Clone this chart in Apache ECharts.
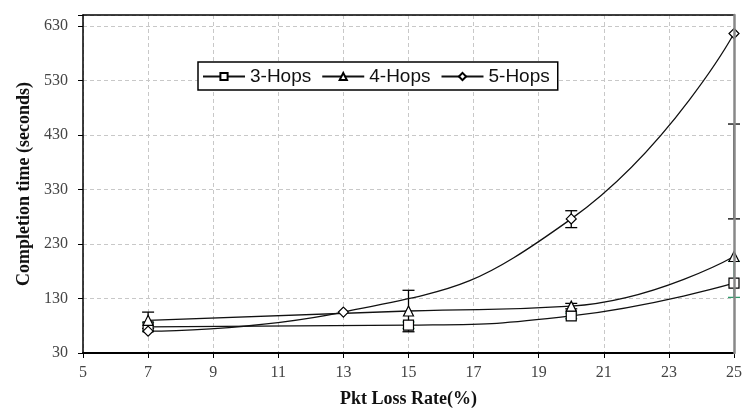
<!DOCTYPE html>
<html>
<head>
<meta charset="utf-8">
<script src="https://cdn.jsdelivr.net/npm/echarts@6/dist/echarts.min.js"></script>
<style>
  html, body { margin: 0; padding: 0; background: #fff; }
  #chart { width: 745px; height: 413px; }
</style>
</head>
<body>
<div id="chart"></div>
<script>
// packet loss rate (%) where each series was measured
const rate3 = [7, 15, 20, 25]
const rate4 = [7, 15, 20, 25]
const rate5 = [7, 13, 20, 25]
// completion time (seconds)
const hops3 = [78, 81, 98, 158]
const hops4 = [90, 107, 116, 207]
const hops5 = [70, 105, 276, 616]
// error bars: [rate, low, high]
const err3 = [[7, 70, 86], [15, 75, 87], [20, 93, 103], [25, 132, 198]]
const err4 = [[7, 75, 105], [15, 69, 145], [20, 111, 121]]
const err5 = [[20, 260, 291], [25, 276, 450]]
const yTicks = [30, 130, 230, 330, 430, 530, 630]

const serif = 'Liberation Serif'
const pairs = (xs, ys) => xs.map((x, i) => [x, ys[i]])

function errorBar(params, api) {
  const x = api.value(0)
  const lo = api.coord([x, api.value(1)])
  const hi = api.coord([x, api.value(2)])
  const w = 6
  const style = { stroke: api.visual('color'), lineWidth: 1.3 }
  return {
    type: 'group',
    children: [
      { type: 'line', shape: { x1: lo[0], y1: lo[1], x2: hi[0], y2: hi[1] }, style },
      { type: 'line', shape: { x1: lo[0] - w, y1: lo[1], x2: lo[0] + w, y2: lo[1] }, style },
      { type: 'line', shape: { x1: hi[0] - w, y1: hi[1], x2: hi[0] + w, y2: hi[1] }, style }
    ]
  }
}

function lineSeries(name, data, symbol) {
  return {
    name: name,
    type: 'line',
    data: data,
    smooth: 0.5,
    symbol: symbol,
    symbolSize: 10,
    z: 5,
    itemStyle: { color: '#fff', borderColor: '#000', borderWidth: 1.2 },
    lineStyle: { color: '#111', width: 1.3 }
  }
}

function errSeries(data, color) {
  return {
    type: 'custom',
    data: data,
    renderItem: errorBar,
    encode: { x: 0, y: [1, 2] },
    itemStyle: { color: color },
    z: 3,
    silent: true
  }
}

const chart = echarts.init(document.getElementById('chart'))
chart.setOption({
  animation: false,
  grid: { left: 83, right: 6, top: 15, bottom: 58 },
  legend: {
    data: ['3-Hops', '4-Hops', '5-Hops'],
    left: 198,
    top: 62,
    padding: [5, 8, 4, 4],
    itemGap: 10,
    itemWidth: 42,
    itemHeight: 9,
    backgroundColor: '#fff',
    borderColor: '#000',
    borderWidth: 1.5,
    borderRadius: 0,
    textStyle: { fontFamily: 'Liberation Sans', fontSize: 19, color: '#111' }
  },
  xAxis: [
    {
      type: 'value',
      min: 5,
      max: 25,
      interval: 2,
      name: 'Pkt Loss Rate(%)',
      nameLocation: 'middle',
      nameGap: 37,
      nameTextStyle: { fontFamily: serif, fontWeight: 'bold', fontSize: 18, color: '#111' },
      axisLine: { lineStyle: { color: '#000', width: 2 } },
      axisTick: { show: true, length: 5, lineStyle: { color: '#000' } },
      axisLabel: { margin: 12, fontFamily: serif, fontSize: 16, color: '#444' },
      splitLine: { show: true, lineStyle: { color: '#c8c8c8', type: [4, 3] } }
    },
    {
      type: 'value',
      position: 'top',
      min: 5,
      max: 25,
      axisLine: { lineStyle: { color: '#000', width: 1.5 } },
      axisTick: { show: false },
      axisLabel: { show: false },
      splitLine: { show: false }
    }
  ],
  yAxis: [
    {
      type: 'value',
      min: 30,
      max: 650,
      interval: 100,
      name: 'Completion time (seconds)',
      nameLocation: 'middle',
      nameGap: 47,
      nameTextStyle: { fontFamily: serif, fontWeight: 'bold', fontSize: 18, color: '#111' },
      axisLine: { show: true, lineStyle: { color: '#000', width: 1.5 } },
      axisTick: { show: true, length: 5, lineStyle: { color: '#000' } },
      axisLabel: {
        margin: 15,
        fontFamily: serif,
        fontSize: 16,
        color: '#444',
        formatter: v => (yTicks.includes(v) ? String(v) : '')
      },
      splitLine: { show: true, lineStyle: { color: '#c8c8c8', type: [4, 3] } }
    },
    {
      type: 'value',
      position: 'right',
      min: 30,
      max: 650,
      z: 10,
      axisLine: { show: true, lineStyle: { color: '#888', width: 2.5 } },
      axisTick: { show: false },
      axisLabel: { show: false },
      splitLine: { show: false }
    }
  ],
  series: [
    errSeries(err3, '#2e9a6a'),
    errSeries(err4, '#000'),
    errSeries(err5, '#000'),
    lineSeries('3-Hops', pairs(rate3, hops3), 'rect'),
    lineSeries('4-Hops', pairs(rate4, hops4), 'triangle'),
    lineSeries('5-Hops', pairs(rate5, hops5), 'diamond')
  ]
})
</script>
</body>
</html>
